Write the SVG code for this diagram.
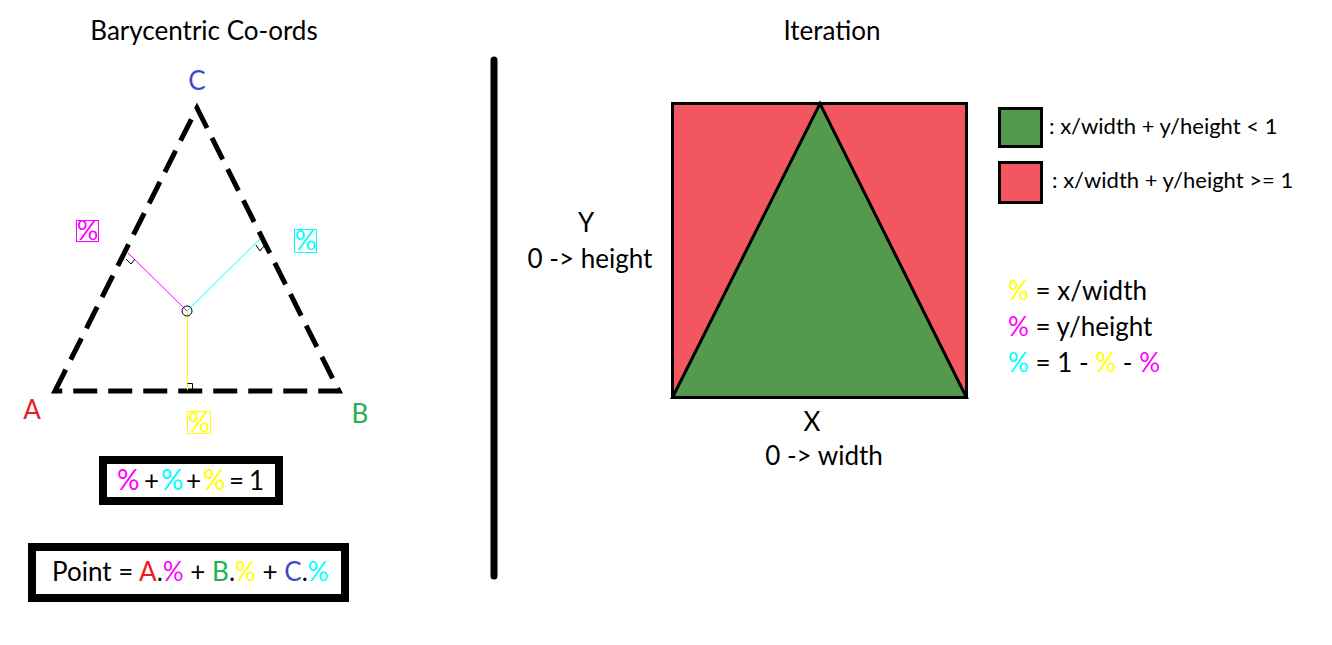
<svg xmlns="http://www.w3.org/2000/svg" width="1332" height="645" viewBox="0 0 1332 645">
<style>
text{font-family:Lato,"Open Sans","Liberation Sans",sans-serif;fill:#000}
.t{font-size:26px}
.m{font-size:26px}
.s{font-size:22px}
.p{font-size:27px}
.mg{fill:#ff00ff}.cy{fill:#00ffff}.yl{fill:#ffff00}.rd{fill:#ed1c24}.gr{fill:#22b14c}.bl{fill:#3f48cc}
</style>
<rect width="1332" height="645" fill="#fff"/>
<g id="title-left"><text class="t" x="204" y="40" text-anchor="middle">Barycentric Co-ords</text></g>
<g id="title-right"><text class="t" x="832" y="40" text-anchor="middle">Iteration</text></g>
<g id="divider"><line x1="494" y1="60" x2="494" y2="576" stroke="#000" stroke-width="7" stroke-linecap="round"/></g>

<g id="triangle">
<path d="M55 391 L197 108 L339 391 Z" fill="none" stroke="#000" stroke-width="5" stroke-dasharray="24 11" stroke-linejoin="miter"/>
</g>
<g id="connectors">
<line x1="187" y1="311" x2="128" y2="253" stroke="#ff00ff" stroke-width="1"/>
<line x1="187" y1="311" x2="260" y2="239" stroke="#00ffff" stroke-width="1"/>
<line x1="187.5" y1="311" x2="187.5" y2="390" stroke="#ffff00" stroke-width="1"/>
<path d="M187.5 383.5 H192.5 V390" fill="none" stroke="#000" stroke-width="1"/>
<path d="M126 259 L131 264 L135 259" fill="none" stroke="#000" stroke-width="1"/>
<path d="M256 245 L260 251 L264 246" fill="none" stroke="#000" stroke-width="1"/>
<circle cx="187" cy="311" r="5" fill="none" stroke="#000" stroke-width="1"/>
</g>
<g id="label-A"><text class="m rd" x="32" y="419" text-anchor="middle">A</text></g>
<g id="label-B"><text class="m gr" x="360" y="423" text-anchor="middle">B</text></g>
<g id="label-C"><text class="m bl" x="197" y="90" text-anchor="middle">C</text></g>
<g id="pct-mag"><rect x="76.5" y="220.5" width="22" height="21" fill="none" stroke="#ff00ff"/><text class="p mg" x="87.5" y="240" text-anchor="middle">%</text></g>
<g id="pct-cyan"><rect x="294.5" y="229.5" width="22" height="23" fill="none" stroke="#00ffff"/><text class="p cy" x="305.5" y="250" text-anchor="middle">%</text></g>
<g id="pct-yellow"><rect x="187.5" y="411.5" width="23" height="22" fill="none" stroke="#ffff00"/><text class="p yl" x="199" y="432" text-anchor="middle">%</text></g>

<g id="sum-box">
<rect x="103" y="460" width="176" height="41" fill="#fff" stroke="#000" stroke-width="8"/>
<text class="m" y="490"><tspan class="mg" x="117" font-size="28">%</tspan><tspan x="144">+</tspan><tspan class="cy" x="161" font-size="28">%</tspan><tspan x="186">+</tspan><tspan class="yl" x="203" font-size="28">%</tspan><tspan x="229">=</tspan><tspan x="249">1</tspan></text>
</g>
<g id="point-box">
<rect x="32" y="547" width="313" height="51" fill="#fff" stroke="#000" stroke-width="8"/>
<text class="m" x="52" y="581">Point = <tspan class="rd">A</tspan>.<tspan class="mg">%</tspan> + <tspan class="gr">B</tspan>.<tspan class="yl">%</tspan> + <tspan class="bl">C</tspan>.<tspan class="cy">%</tspan></text>
</g>

<g id="square">
<rect x="672.5" y="103.5" width="294" height="294" fill="#f2575f"/>
<path d="M672.5 397.5 L820 103.5 L966.5 397.5 Z" fill="#55994e" stroke="#000" stroke-width="3" stroke-linejoin="miter"/>
<rect x="672.5" y="103.5" width="294" height="294" fill="none" stroke="#000" stroke-width="3"/>
</g>
<g id="label-Y"><text class="m" x="586" y="232" text-anchor="middle">Y</text><text class="m" x="590" y="268" text-anchor="middle">0 -&gt; height</text></g>
<g id="label-X"><text class="m" x="812" y="431" text-anchor="middle">X</text><text class="m" x="824" y="465" text-anchor="middle">0 -&gt; width</text></g>

<g id="legend-green"><rect x="999.5" y="108.5" width="42" height="38" fill="#55994e" stroke="#000" stroke-width="3"/><text class="s" x="1049" y="134">: x/width + y/height &lt; 1</text></g>
<g id="legend-red"><rect x="999.5" y="162.5" width="42" height="40" fill="#f2575f" stroke="#000" stroke-width="3"/><text class="s" x="1052" y="188">: x/width + y/height &gt;= 1</text></g>

<g id="formulas">
<text class="m" x="1008" y="300"><tspan class="yl">%</tspan> = x/width</text>
<text class="m" x="1008" y="336"><tspan class="mg">%</tspan> = y/height</text>
<text class="m" x="1008" y="372"><tspan class="cy">%</tspan> = 1 - <tspan class="yl">%</tspan> - <tspan class="mg">%</tspan></text>
</g>
</svg>
